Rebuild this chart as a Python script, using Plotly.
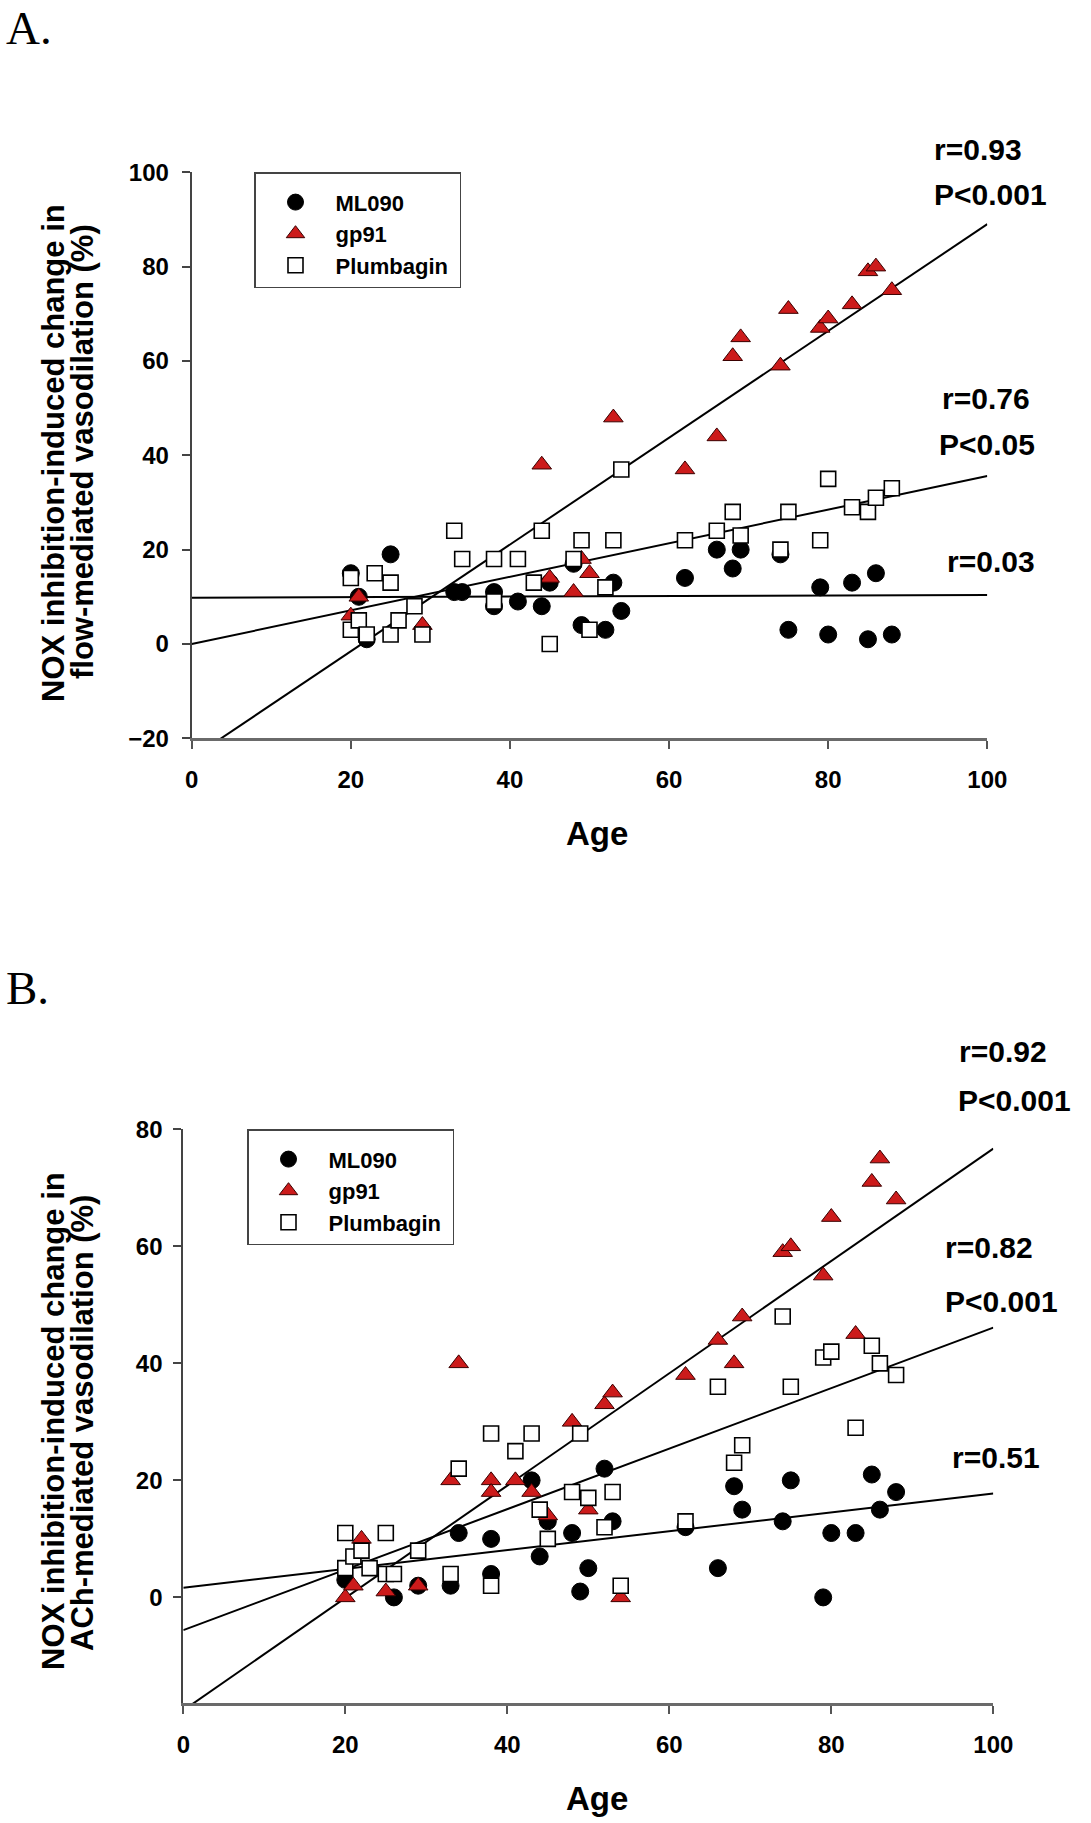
import plotly.graph_objects as go

W, H = 1091, 1823

# ---------------- Panel A data (flow-mediated vasodilation) ----------------
A_ml090_age = [20, 21, 22, 25, 33, 34, 38, 38, 41, 44, 45, 48, 49, 52, 53, 54, 62, 66, 68, 69, 74, 75, 79, 80, 83, 85, 86, 88]
A_ml090_val = [15, 10, 1, 19, 11, 11, 11, 8, 9, 8, 13, 17, 4, 3, 13, 7, 14, 20, 16, 20, 19, 3, 12, 2, 13, 1, 15, 2]

A_gp91_age = [20, 21, 29, 44, 45, 48, 49, 50, 53, 62, 66, 68, 69, 74, 75, 79, 80, 83, 85, 86, 88]
A_gp91_val = [6, 10, 4, 38, 14, 11, 18, 15, 48, 37, 44, 61, 65, 59, 71, 67, 69, 72, 79, 80, 75]

A_plum_age = [20, 20, 21, 22, 23, 25, 25, 26, 28, 29, 33, 34, 38, 38, 41, 43, 44, 45, 48, 49, 50, 52, 53, 54,
              62, 66, 68, 69, 74, 75, 79, 80, 83, 85, 86, 88]
A_plum_val = [14, 3, 5, 2, 15, 13, 2, 5, 8, 2, 24, 18, 18, 9, 18, 13, 24, 0, 18, 22, 3, 12, 22, 37,
              22, 24, 28, 23, 20, 28, 22, 35, 29, 28, 31, 33]

# regression lines (intercept, slope)
A_fit = {"ML090": (9.8, 0.006), "gp91": (-24.2, 1.132), "Plumbagin": (0.0, 0.356)}
A_stats = ["r=0.93", "P<0.001", "r=0.76", "P<0.05", "r=0.03"]

# ---------------- Panel B data (ACh-mediated vasodilation) ----------------
B_ml090_age = [20, 26, 29, 33, 34, 38, 38, 43, 44, 45, 48, 49, 50, 52, 53, 62, 66, 68, 69, 74, 75, 79, 80, 83, 85, 86, 88]
B_ml090_val = [3, 0, 2, 2, 11, 10, 4, 20, 7, 13, 11, 1, 5, 22, 13, 12, 5, 19, 15, 13, 20, 0, 11, 11, 21, 15, 18]

B_gp91_age = [20, 21, 22, 25, 29, 33, 34, 38, 38, 41, 43, 45, 48, 50, 52, 53, 54, 62, 66, 68, 69, 74, 75, 79, 80, 83, 85, 86, 88]
B_gp91_val = [0, 2, 10, 1, 2, 20, 40, 20, 18, 20, 18, 14, 30, 15, 33, 35, 0, 38, 44, 40, 48, 59, 60, 55, 65, 45, 71, 75, 68]

B_plum_age = [20, 20, 21, 22, 23, 25, 25, 26, 29, 33, 34, 38, 38, 41, 43, 44, 45, 48, 49, 50, 52, 53, 54,
              62, 66, 68, 69, 74, 75, 79, 80, 83, 85, 86, 88]
B_plum_val = [11, 5, 7, 8, 5, 11, 4, 4, 8, 4, 22, 28, 2, 25, 28, 15, 10, 18, 28, 17, 12, 18, 2,
              13, 36, 23, 26, 48, 36, 41, 42, 29, 43, 40, 38]

B_fit = {"ML090": (1.65, 0.161), "gp91": (-19.3, 0.96), "Plumbagin": (-5.6, 0.517)}
B_stats = ["r=0.92", "P<0.001", "r=0.82", "P<0.001", "r=0.51"]

x_ticks = [0, 20, 40, 60, 80, 100]
A_y_ticks = [-20, 0, 20, 40, 60, 80, 100]
B_y_ticks = [0, 20, 40, 60, 80]

FONT = "Liberation Sans, Arial, sans-serif"
SERIF = "Liberation Serif, Times New Roman, serif"
RED = "#cc1b1b"

styles = {
    "ML090": dict(symbol="circle", size=17, color="black", line=dict(color="black", width=1)),
    "gp91": dict(symbol="triangle-up", size=17, color=RED, line=dict(color="#3a0000", width=1)),
    "Plumbagin": dict(symbol="square", size=15, color="white", line=dict(color="black", width=1.6)),
}

fig = go.Figure()

def add_panel(xa, ya, legend, series, fits):
    for name in ["ML090", "gp91", "Plumbagin"]:
        b0, b1 = fits[name]
        xs = [0, 100]
        fig.add_trace(go.Scatter(x=xs, y=[b0 + b1 * v for v in xs], mode="lines",
                                 line=dict(color="black", width=2), showlegend=False,
                                 xaxis=xa, yaxis=ya, hoverinfo="skip"))
    for name, (ax, vals) in series.items():
        fig.add_trace(go.Scatter(x=ax, y=vals, mode="markers", name="<b>%s</b>&nbsp;" % name,
                                 marker=styles[name], xaxis=xa, yaxis=ya, legend=legend,
                                 cliponaxis=False))

add_panel("x", "y", "legend",
          {"ML090": (A_ml090_age, A_ml090_val), "gp91": (A_gp91_age, A_gp91_val),
           "Plumbagin": (A_plum_age, A_plum_val)}, A_fit)
add_panel("x2", "y2", "legend2",
          {"ML090": (B_ml090_age, B_ml090_val), "gp91": (B_gp91_age, B_gp91_val),
           "Plumbagin": (B_plum_age, B_plum_val)}, B_fit)

tickfont = dict(family=FONT, size=24, color="black", weight="bold")

def xaxis_style(**kw):
    d = dict(showline=True, linecolor="#6a6a6a", linewidth=2.5, ticks="outside", ticklen=8,
             tickwidth=2, tickcolor="#555", showgrid=False, zeroline=False, automargin=False,
             tickfont=tickfont)
    d.update(kw)
    return d

def yaxis_style(**kw):
    d = dict(showline=True, linecolor="#444", linewidth=2, ticks="outside", ticklen=8,
             tickwidth=2, tickcolor="#444", showgrid=False, zeroline=False, automargin=False,
             tickfont=tickfont)
    d.update(kw)
    return d

def px_x(p):
    return p / W

def px_y(p):
    return 1 - p / H

legend_common = dict(xanchor="left", yanchor="top", bordercolor="#444", borderwidth=1.5,
                     bgcolor="white", font=dict(family=FONT, size=22, color="black"),
                     itemwidth=70, tracegroupgap=0,
                     title=dict(text="&nbsp;", font=dict(size=6)))

fig.update_layout(
    width=W, height=H, autosize=False,
    margin=dict(l=0, r=0, t=0, b=0, pad=0, autoexpand=False),
    paper_bgcolor="white", plot_bgcolor="white",
    xaxis=xaxis_style(domain=[px_x(191.7), px_x(987.3)], range=[0, 100], tickvals=x_ticks,
                      anchor="y", ticklabelstandoff=10),
    yaxis=yaxis_style(domain=[px_y(738.3), px_y(172.3)], range=[-20, 100], tickvals=A_y_ticks,
                      anchor="x", ticklabelstandoff=8),
    xaxis2=xaxis_style(domain=[px_x(183.3), px_x(993.3)], range=[0, 100], tickvals=x_ticks,
                       anchor="y2", ticklabelstandoff=10),
    yaxis2=yaxis_style(domain=[px_y(1703.3), px_y(1129.3)], range=[-18.1, 80], tickvals=B_y_ticks,
                       anchor="x2", ticklabelstandoff=6),
    legend=dict(x=px_x(254), y=px_y(172), **legend_common),
    legend2=dict(x=px_x(247), y=px_y(1129), **legend_common),
)

ann = []
# statistic labels: (left edge px, centre y px)
A_stat_pos = [(931.7, 149), (931.7, 195), (940, 398), (936.7, 445), (945, 561.7)]
B_stat_pos = [(956.7, 1051), (956, 1100), (943, 1247.5), (943, 1301), (950, 1457.5)]
for text, (xp, yp) in list(zip(A_stats, A_stat_pos)) + list(zip(B_stats, B_stat_pos)):
    ann.append(dict(text="<b>%s</b>" % text, x=px_x(xp), y=px_y(yp), xref="paper", yref="paper",
                    xanchor="left", yanchor="middle", showarrow=False,
                    font=dict(family=FONT, size=30, color="black")))

# axis titles
for yp in (833, 1798):
    ann.append(dict(text="<b>Age</b>", x=px_x(596.7), y=px_y(yp), xref="paper", yref="paper",
                    xanchor="center", yanchor="middle",
                    showarrow=False, font=dict(family=FONT, size=33, color="black")))
ytitles = [("NOX inhibition-induced change in", 53, 453),
           ("flow-mediated vasodilation (%)", 82, 452),
           ("NOX inhibition-induced change in", 53, 1421),
           ("ACh-mediated vasodilation (%)", 82, 1423)]
for text, xp, yp in ytitles:
    ann.append(dict(text="<b>%s</b>" % text, x=px_x(xp), y=px_y(yp), xref="paper", yref="paper",
                    xanchor="center", yanchor="middle",
                    showarrow=False, textangle=-90, font=dict(family=FONT, size=31, color="black")))
# panel labels
ann.append(dict(text="A.", x=px_x(4), y=1, xref="paper", yref="paper", xanchor="left",
                yanchor="top", showarrow=False, font=dict(family=SERIF, size=47, color="black")))
ann.append(dict(text="B.", x=px_x(4), y=px_y(988), xref="paper", yref="paper", xanchor="left",
                yanchor="middle", showarrow=False, font=dict(family=SERIF, size=47, color="black")))

fig.update_layout(annotations=ann)
fig.write_html("out.html", config={"displayModeBar": False},
               post_script="document.body.style.margin='0';")
